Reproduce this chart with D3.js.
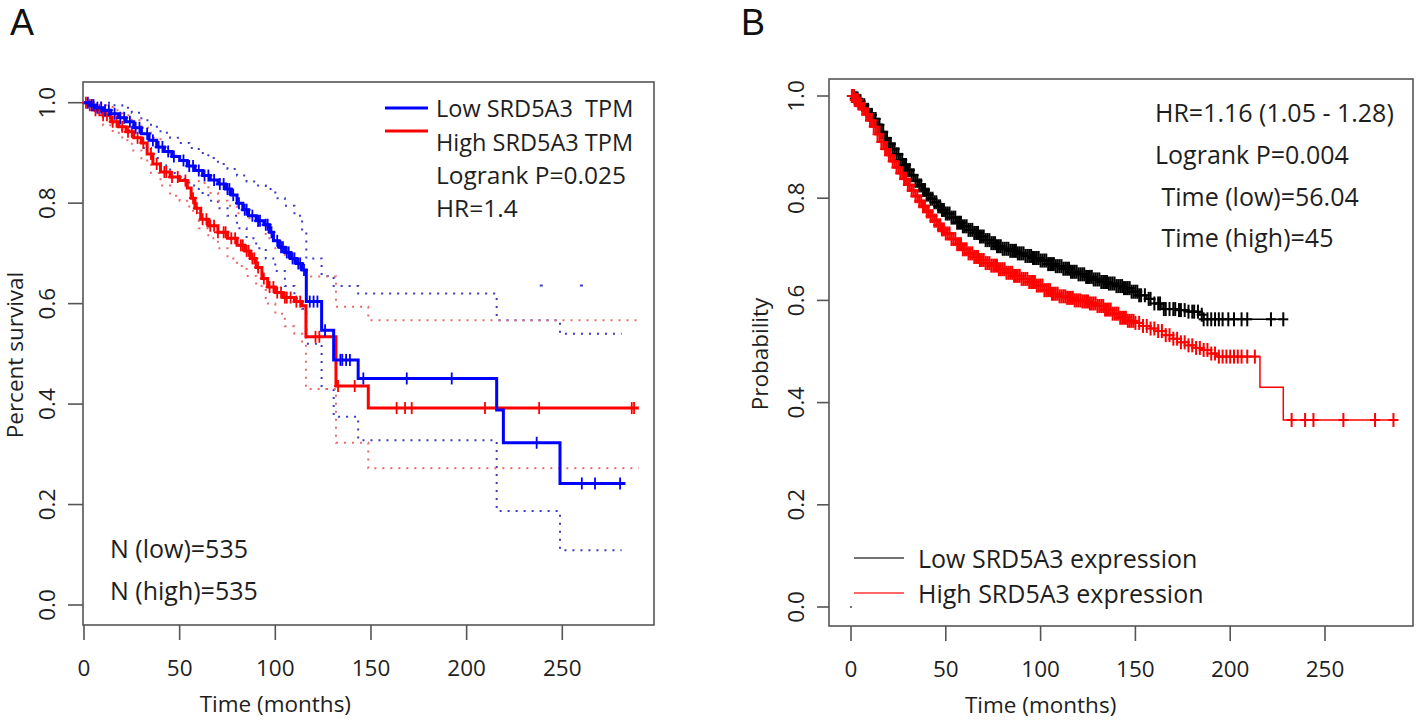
<!DOCTYPE html>
<html><head><meta charset="utf-8">
<script src="https://cdn.jsdelivr.net/npm/d3@7"></script>
<style>body{margin:0;background:#fff}svg{display:block}</style>
</head><body>
<svg id="chart" width="1418" height="721"></svg>
<script>
// ---------- DATA ----------
const xTicks = [0, 50, 100, 150, 200, 250];
const yTicks = [0, 0.2, 0.4, 0.6, 0.8, 1.0];
const yTickLabels = ["0.0", "0.2", "0.4", "0.6", "0.8", "1.0"];

// Panel A: Kaplan-Meier (time in months, survival)
const lowA = [[0,1.0],[3,0.995],[6,0.99],[10,0.985],[14,0.978],[18,0.97],[22,0.962],[26,0.95],[30,0.938],[34,0.925],[38,0.912],[42,0.903],[46,0.893],[50,0.885],[54,0.874],[58,0.865],[62,0.855],[66,0.846],[70,0.838],[74,0.828],[77,0.816],[80,0.80],[83,0.787],[86,0.775],[90,0.765],[94,0.757],[97,0.742],[99,0.725],[102,0.712],[105,0.702],[108,0.69],[111,0.68],[114,0.667],[116.2,0.604],[124.2,0.547],[130.5,0.488],[143.3,0.451],[215.7,0.388],[219.2,0.323],[248.8,0.242],[283,0.242]];
const highA = [[0,1.0],[3,0.995],[6,0.985],[10,0.975],[14,0.962],[18,0.952],[22,0.942],[26,0.93],[30,0.92],[33,0.898],[36,0.878],[40,0.862],[45,0.852],[50,0.845],[54,0.83],[56,0.81],[58,0.79],[61,0.768],[65,0.755],[70,0.742],[75,0.73],[80,0.716],[84,0.705],[87,0.69],[90,0.672],[93,0.65],[96,0.633],[100,0.622],[104,0.612],[110,0.604],[114,0.596],[116,0.534],[131.7,0.436],[148.6,0.392],[290,0.392]];
const lowAUpper = [[0,1.0],[10,1.0],[15,0.995],[20,0.99],[25,0.98],[30,0.965],[35,0.952],[40,0.94],[45,0.93],[50,0.92],[55,0.91],[60,0.9],[65,0.89],[70,0.878],[75,0.868],[80,0.855],[85,0.843],[90,0.835],[95,0.828],[100,0.81],[105,0.795],[110,0.775],[114,0.745],[116.2,0.69],[124.2,0.655],[130.5,0.635],[143.3,0.62],[215.7,0.567],[248.8,0.54],[281,0.54]];
const lowALower = [[0,1.0],[5,0.985],[10,0.97],[15,0.958],[20,0.945],[25,0.93],[30,0.91],[35,0.89],[40,0.875],[45,0.86],[50,0.848],[55,0.835],[60,0.82],[65,0.805],[70,0.79],[75,0.775],[80,0.75],[85,0.73],[90,0.71],[95,0.69],[100,0.665],[105,0.635],[110,0.61],[114,0.59],[116.2,0.52],[124.2,0.43],[130.5,0.375],[143.3,0.328],[215.7,0.187],[248.8,0.109],[281,0.109]];
const highAUpper = [[0,1.0],[10,0.995],[15,0.985],[20,0.975],[25,0.965],[30,0.95],[35,0.93],[40,0.91],[45,0.895],[50,0.885],[55,0.87],[60,0.84],[65,0.82],[70,0.805],[75,0.795],[80,0.78],[85,0.77],[90,0.755],[95,0.73],[100,0.71],[105,0.69],[110,0.68],[114,0.67],[116,0.654],[131.7,0.594],[148.6,0.567],[290,0.567]];
const highALower = [[0,1.0],[5,0.98],[10,0.955],[15,0.94],[20,0.925],[25,0.905],[30,0.885],[35,0.86],[40,0.835],[45,0.815],[50,0.805],[55,0.785],[60,0.75],[65,0.73],[70,0.71],[75,0.69],[80,0.675],[85,0.655],[90,0.635],[95,0.6],[100,0.58],[105,0.555],[110,0.54],[114,0.52],[116,0.43],[131.7,0.323],[148.6,0.272],[290,0.272]];
const lowACensor = [2,4,5,7,9,11,13,16,19,21,24,27,29,33,36,39,41,44,47,52,55,57,60,63,65,68,71,73,75,76,78,81,84,85,88,91,92,95,96,98,101,103,104,106,107,109,110,112,113,115,118,120,122,126,134,135,137,139,146,168.7,192.2,236.6,260.2,267.1,280.2];
const highACensor = [1,3,4,6,8,10,12,15,17,20,23,25,28,31,35,38,42,43,46,49,53,57,59,62,64,66,68,70,73,74,77,79,82,83,85,86,88,89,91,94,97,99,101,103,105,106,108,111,113,121,123,132.8,141.5,163.4,167.8,171.3,209.6,237.9,286.3,287.5];
const strayDotsA = [[239,0.636],[260,0.636]];

// Panel B: Kaplan-Meier
const lowB = [[0,1.0],[2,0.995],[4,0.99],[6,0.982],[8,0.973],[10,0.963],[12,0.955],[14,0.944],[16,0.93],[18,0.918],[20,0.906],[22,0.896],[24,0.886],[26,0.875],[28,0.865],[30,0.855],[32,0.845],[34,0.834],[36,0.825],[38,0.816],[40,0.807],[42,0.799],[44,0.792],[46,0.784],[48,0.777],[50,0.77],[53,0.762],[56,0.752],[59,0.745],[62,0.738],[65,0.732],[68,0.725],[71,0.718],[74,0.712],[77,0.706],[80,0.701],[84,0.697],[88,0.692],[92,0.687],[96,0.683],[100,0.678],[104,0.671],[108,0.667],[112,0.662],[116,0.656],[120,0.651],[124,0.646],[128,0.641],[132,0.636],[136,0.633],[140,0.628],[144,0.624],[148,0.617],[152,0.61],[156,0.603],[160,0.594],[164,0.583],[172,0.581],[178,0.578],[184,0.572],[186,0.563],[228,0.563]];
const highB = [[0,1.0],[2,0.992],[4,0.985],[6,0.975],[8,0.964],[10,0.952],[12,0.94],[14,0.925],[16,0.91],[18,0.896],[20,0.884],[22,0.872],[24,0.86],[26,0.849],[28,0.838],[30,0.826],[32,0.815],[34,0.804],[36,0.794],[38,0.784],[40,0.774],[42,0.765],[44,0.756],[46,0.747],[48,0.739],[50,0.731],[53,0.72],[56,0.71],[59,0.7],[62,0.692],[65,0.685],[68,0.679],[71,0.673],[74,0.668],[78,0.661],[82,0.654],[86,0.648],[90,0.642],[94,0.636],[98,0.629],[102,0.62],[106,0.613],[110,0.608],[114,0.605],[118,0.6],[122,0.598],[126,0.594],[130,0.589],[134,0.582],[138,0.574],[142,0.566],[146,0.56],[150,0.556],[154,0.55],[158,0.545],[162,0.54],[166,0.532],[170,0.525],[174,0.518],[178,0.512],[182,0.507],[186,0.503],[190,0.496],[193,0.49],[215.7,0.43],[228,0.366],[287.8,0.366]];
const lowBCensor = [0.5,1,1.5,2,2.5,3,3.5,4,5,6,7,8,9,10,11,12,13,14,15,16,17,18,19,20,21,22,23,24,25,26,27,28,29,30,31,32,33,34,35,36,37,38,39,40,41,42,43,44,45,46,47,48,49,50,51,52,53,54,55,56,57,58,59,60,61,62,63,64,65,66,67,68,69,70,71,72,73,74,75,76,77,78,79,80,81,82,83,84,85,86,87,88,89,90,91,92,93,94,95,96,97,98,99,100,101,102,103,104,105,106,107,108,109,110,111,112,113,114,115,116,117,118,119,120,121,122,123,124,125,126,127,128,129,130,131,132,133,134,135,136,137,138,139,140,141,142,143,144,145,146,147,148,149,150,151,152,153,155,157,158,160,162,163,165,166,168,170,171,173,174,176,178,180,181,183,185,186,188,190,192,194,196,199,202,206,209,221.5,228];
const highBCensor = [0.5,1,1.5,2,2.5,3,3.5,4,5,6,7,8,9,10,11,12,13,14,15,16,17,18,19,20,21,22,23,24,25,26,27,28,29,30,31,32,33,34,35,36,37,38,39,40,41,42,43,44,45,46,47,48,49,50,51,52,53,54,55,56,57,58,59,60,61,62,63,64,65,66,67,68,69,70,71,72,73,74,75,76,77,78,79,80,81,82,83,84,85,86,87,88,89,90,91,92,93,94,95,96,97,98,99,100,101,102,103,104,105,106,107,108,109,110,111,112,113,114,115,116,117,118,119,120,121,122,123,124,125,126,127,128,129,130,131,132,133,134,135,136,137,138,139,140,141,142,143,144,145,146,147,148,149,150,152,154,156,158,160,162,164,166,168,170,172,174,176,178,180,182,184,186,188,190,192,194,196,198,200,202,204,206,209,213,232.4,239.5,243.9,259.7,276.4,286.1];
const originDotB = [[0,0]];

const statsA = ["Logrank P=0.025", "HR=1.4"];
const legendA = ["Low SRD5A3  TPM", "High SRD5A3 TPM"];
const nLabelsA = ["N (low)=535", "N (high)=535"];
const statsB = ["HR=1.16 (1.05 - 1.28)", "Logrank P=0.004", " Time (low)=56.04", " Time (high)=45"];
const legendB = ["Low SRD5A3 expression", "High SRD5A3 expression"];

// ---------- DRAW ----------
const svg = d3.select("#chart");
const FONT = "'Open Sans', 'Liberation Sans', sans-serif";
const AXC = "#555";
const TXT = "#1e1e1e";
const AXFS = 22.5;

function survAt(curve, t) {
  let v = curve[0][1];
  for (const p of curve) { if (p[0] <= t) v = p[1]; else break; }
  return v;
}

function frame(g, box, x, y, yTitle, tickLen) {
  g.append("rect").attr("x", box.l).attr("y", box.t).attr("width", box.r - box.l).attr("height", box.b - box.t)
    .attr("fill", "none").attr("stroke", AXC).attr("stroke-width", 1.6);
  yTicks.forEach((v, i) => {
    g.append("line").attr("x1", box.l - tickLen).attr("x2", box.l).attr("y1", y(v)).attr("y2", y(v))
      .attr("stroke", AXC).attr("stroke-width", 1.6);
    g.append("text").attr("transform", `translate(${box.l - tickLen - 22},${y(v)}) rotate(-90)`)
      .attr("text-anchor", "middle").attr("dominant-baseline", "central")
      .attr("font-family", FONT).attr("font-size", AXFS).attr("fill", TXT).text(yTickLabels[i]);
  });
  xTicks.forEach(t => {
    g.append("line").attr("x1", x(t)).attr("x2", x(t)).attr("y1", box.b).attr("y2", box.b + 15)
      .attr("stroke", AXC).attr("stroke-width", 1.6);
    g.append("text").attr("x", x(t)).attr("y", box.b + 42).attr("text-anchor", "middle")
      .attr("dominant-baseline", "central")
      .attr("font-family", FONT).attr("font-size", AXFS).attr("fill", TXT).text(t);
  });
  g.append("text").attr("x", x(100)).attr("y", box.b + 78).attr("text-anchor", "middle")
    .attr("dominant-baseline", "central").attr("font-family", FONT).attr("font-size", AXFS).attr("fill", TXT)
    .text("Time (months)");
  g.append("text").attr("transform", `translate(${yTitle.x},${yTitle.y}) rotate(-90)`)
    .attr("text-anchor", "middle").attr("dominant-baseline", "central")
    .attr("font-family", FONT).attr("font-size", AXFS).attr("fill", TXT).text(yTitle.text);
}

function drawKM(g, curve, censor, x, y, col, lw, mh, mw, mlw) {
  const line = d3.line().x(d => x(d[0])).y(d => y(d[1])).curve(d3.curveStepAfter);
  g.append("path").attr("d", line(curve)).attr("fill", "none").attr("stroke", col).attr("stroke-width", lw);
  const m = g.append("g");
  censor.forEach(t => {
    const cx = x(t), cy = y(survAt(curve, t));
    m.append("line").attr("x1", cx).attr("x2", cx).attr("y1", cy - mh / 2).attr("y2", cy + mh / 2)
      .attr("stroke", col).attr("stroke-width", mlw);
    m.append("line").attr("x1", cx - mw / 2).attr("x2", cx + mw / 2).attr("y1", cy).attr("y2", cy)
      .attr("stroke", col).attr("stroke-width", mlw);
  });
}

// ---- Panel A ----
const boxA = {l: 83, r: 654, t: 82, b: 625};
const xA = d3.scaleLinear().domain([0, 250]).range([84, 562.3]);
const yA = d3.scaleLinear().domain([0, 1]).range([605, 102.7]);
const gA = svg.append("g");
gA.append("text").attr("x", 10).attr("y", 35).attr("font-family", "'Liberation Sans', Arial, sans-serif")
  .attr("font-size", 36).attr("fill", "#111").text("A");
frame(gA, boxA, xA, yA, {x: 14, y: 355, text: "Percent survival"}, 15);

const stepA = d3.line().x(d => xA(d[0])).y(d => yA(d[1])).curve(d3.curveStepAfter);
[[lowAUpper, "#3a3ac8"], [lowALower, "#3a3ac8"], [highAUpper, "#e86a6a"], [highALower, "#e86a6a"]].forEach(([c, col]) => {
  gA.append("path").attr("d", stepA(c)).attr("fill", "none").attr("stroke", col)
    .attr("stroke-width", 2).attr("stroke-dasharray", "2,6").attr("stroke-linecap", "butt");
});
gA.selectAll(".stray").data(strayDotsA).enter().append("line")
  .attr("x1", d => xA(d[0]) - 1.5).attr("x2", d => xA(d[0]) + 1.5).attr("y1", d => yA(d[1])).attr("y2", d => yA(d[1]))
  .attr("stroke", "#3a3ac8").attr("stroke-width", 2);

drawKM(gA, highA, highACensor, xA, yA, "#ff0000", 3, 12, 8, 1.8);
drawKM(gA, lowA, lowACensor, xA, yA, "#0000ff", 3, 12, 8, 1.8);

// legend A
[["#0000ff", 0], ["#ff0000", 1]].forEach(([col, i]) => {
  gA.append("line").attr("x1", 385).attr("x2", 428).attr("y1", 108 + i * 23).attr("y2", 108 + i * 23)
    .attr("stroke", col).attr("stroke-width", 3);
});
legendA.forEach((s, i) => {
  gA.append("text").attr("x", 436).attr("y", 108 + i * 34).attr("dominant-baseline", "central")
    .attr("font-family", FONT).attr("font-size", 23.5).attr("fill", TXT).style("white-space", "pre").text(s);
});
statsA.forEach((s, i) => {
  gA.append("text").attr("x", 436).attr("y", 174 + i * 33).attr("dominant-baseline", "central")
    .attr("font-family", FONT).attr("font-size", 24.5).attr("fill", TXT).text(s);
});
nLabelsA.forEach((s, i) => {
  gA.append("text").attr("x", 110).attr("y", 548 + i * 42).attr("dominant-baseline", "central")
    .attr("font-family", FONT).attr("font-size", 25).attr("fill", TXT).text(s);
});

// ---- Panel B ----
const boxB = {l: 829, r: 1413, t: 79, b: 626};
const xB = d3.scaleLinear().domain([0, 250]).range([851, 1325]);
const yB = d3.scaleLinear().domain([0, 1]).range([607, 96]);
const gB = svg.append("g");
gB.append("text").attr("x", 741).attr("y", 35).attr("font-family", "'Liberation Sans', Arial, sans-serif")
  .attr("font-size", 36).attr("fill", "#111").text("B");
frame(gB, boxB, xB, yB, {x: 759, y: 354, text: "Probability"}, 12);

drawKM(gB, lowB, lowBCensor, xB, yB, "#000000", 1.5, 14, 10, 2);
drawKM(gB, highB, highBCensor, xB, yB, "#ff0000", 1.5, 14, 10, 2);
gB.selectAll(".od").data(originDotB).enter().append("circle")
  .attr("cx", d => xB(d[0])).attr("cy", d => yB(d[1])).attr("r", 1).attr("fill", "#444");

statsB.forEach((s, i) => {
  gB.append("text").attr("x", 1155).attr("y", 112 + i * 41.8).attr("dominant-baseline", "central")
    .attr("font-family", FONT).attr("font-size", 25).attr("fill", TXT).style("white-space", "pre").text(s);
});
[["#444", 0], ["#ff3333", 1]].forEach(([col, i]) => {
  gB.append("line").attr("x1", 854).attr("x2", 904).attr("y1", 558 + i * 35).attr("y2", 558 + i * 35)
    .attr("stroke", col).attr("stroke-width", 1.5);
});
legendB.forEach((s, i) => {
  gB.append("text").attr("x", 918).attr("y", 558 + i * 35).attr("dominant-baseline", "central")
    .attr("font-family", FONT).attr("font-size", 25).attr("fill", TXT).text(s);
});
</script>
</body></html>
